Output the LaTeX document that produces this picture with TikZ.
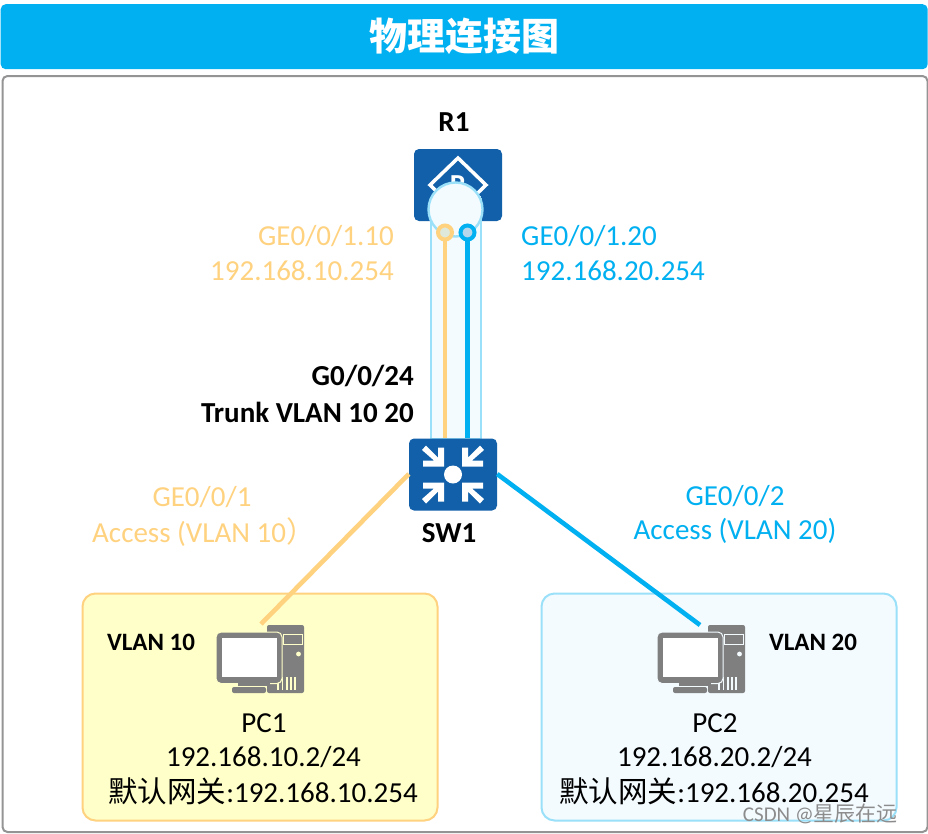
\documentclass[tikz,border=0pt]{standalone}
\usepackage{fontspec}
\setmainfont{Carlito}
\newfontfamily\cjk{Noto Sans CJK SC}
\definecolor{hdr}{HTML}{00B0F0}
\definecolor{dev}{HTML}{1160A9}
\definecolor{orng}{HTML}{FFD280}
\definecolor{lblue}{HTML}{9BE0F9}
\definecolor{pale}{HTML}{F3FBFF}
\definecolor{yel}{HTML}{FFFFC9}
\definecolor{pcgray}{HTML}{7F7F7F}
\tikzset{
  lbl/.style={font=\fontsize{29}{29}\selectfont,inner sep=0pt,text=black},
  bold/.style={font=\fontsize{29}{29}\selectfont\bfseries,inner sep=0pt,text=black},
  devbox/.style={fill=dev,rounded corners=5pt,inner sep=0pt,minimum width=88pt,minimum height=72pt},
  port/.style={circle,inner sep=0pt,minimum size=14pt,line width=4pt},
  link/.style={line width=4.6pt},
  pcicon/.pic={
    \fill[pcgray,rounded corners=2pt] (7,-34) rectangle (44,34);
    \draw[#1,line width=.9pt] (23,-24.5) rectangle (42,-15);
    \fill[#1] (38.5,-5) circle (2.4);
    \foreach \q in {18,22.5,27,31,35}{\draw[#1,line width=1.2pt] (\q,18) -- (\q,31);}
    \fill[pcgray,draw=#1,line width=1pt,rounded corners=5pt] (-44,-27) rectangle (22,24.5);
    \fill[white] (-38,-21.5) rectangle (17,18);
    \fill[pcgray] (-22,24) rectangle (10,27);
    \fill[pcgray,rounded corners=2pt] (-28,28) rectangle (6,34);
  }
}
\begin{document}
\begin{tikzpicture}[x=1pt,y=-1pt]
\useasboundingbox (0,0) rectangle (928,833);
\node[fill=hdr,rounded corners=5pt,minimum width=927pt,minimum height=65pt,inner sep=0pt,anchor=north west,text=white,font=\cjk\fontsize{38}{38}\selectfont\bfseries] (title) at (0.5,4) {\raisebox{-1pt}{物理连接图}};
\node[draw=black!42,line width=2pt,fill=white,rounded corners=5pt,minimum width=925pt,minimum height=756pt,inner sep=0pt,anchor=north west] (frame) at (1.5,75) {};

% VLAN boxes
\node[draw=orng,fill=yel,line width=2pt,rounded corners=13pt,minimum width=355pt,minimum height=227pt,anchor=north west,inner sep=0pt] (zone1) at (81.5,592.5) {};
\node[draw=lblue,fill=pale,line width=2pt,rounded corners=13pt,minimum width=355pt,minimum height=227pt,anchor=north west,inner sep=0pt] (zone2) at (540.5,592.5) {};

% R1
\node[devbox] (R1) at (458,185) {};
\draw[white,line width=3.5pt,line join=miter] (458,158) -- (486,185) -- (458,212) -- (430,185) -- cycle;
\node[text=white,font=\fontsize{29}{29}\selectfont\bfseries,inner sep=0pt] (Rglyph) at (458,185) {R};
% trunk tube
\node[draw=lblue,fill=pale,line width=2.6pt,minimum width=50pt,minimum height=240pt,inner sep=0pt,anchor=north] (tube) at (456,198) {};
\fill[pale] (431.5,196) rectangle (480.5,214);
\node[circle,draw=lblue,fill=pale,line width=2.4pt,minimum size=54pt,inner sep=0pt] (bulge) at (455.5,209.5) {};
% SW1
\node[devbox] (SW1) at (453,474.5) {};
\fill[white] (453,474.5) circle (9);
\foreach \a/\b in {1/1,-1/1,1/-1,-1/-1}{
  \begin{scope}[shift={(453,474.5)},xscale=\a,yscale=\b]
    \fill[white] (9,-8) -- (9,-27) -- (15,-27) -- (15,-17) -- (27,-29) -- (31,-24.5) -- (19,-14) -- (30,-14) -- (30,-8) -- cycle;
  \end{scope}
}

% ports
\coordinate (p1top) at (445,232.5);
\coordinate (p2top) at (467.5,232.5);
\draw[orng,link] (p1top) -- (p1top |- SW1.north);
\draw[hdr,link] (p2top) -- (p2top |- SW1.north);
\node[port,draw=orng,fill=orng!45!lblue!60!white] (port1) at (p1top) {};
\node[port,draw=hdr,fill=hdr!30!dev!30!white] (port2) at (p2top) {};

% access links
\coordinate (pc1end) at (261,624);
\coordinate (pc2end) at (700,625);
\draw[orng,link] (SW1.west |- 0,474) -- (pc1end);
\draw[hdr,link] (SW1.east |- 0,474) -- (pc2end);

% PCs
\path (260,659) pic {pcicon=yel};
\path (701,659) pic {pcicon=pale};

% labels
\node[bold] (lr1) at (454,122) {R1};
\node[bold] (lsw1) at (449,533) {SW1};
\node[lbl,text=orng,anchor=east] (a1) at (394,236) {GE0/0/1.10};
\node[lbl,text=orng,anchor=east] (a2) at (394,271) {192.168.10.254};
\node[lbl,text=hdr,anchor=west] (b1) at (521,236) {GE0/0/1.20};
\node[lbl,text=hdr,anchor=west] (b2) at (521,271) {192.168.20.254};
\node[bold,anchor=east] (c1) at (414,376) {G0/0/24};
\node[bold,anchor=east] (c2) at (414,412) {Trunk VLAN 10 20};
\node[lbl,text=orng] (d1) at (202,497) {GE0/0/1};
\node[lbl,text=orng,anchor=west] (d2) at (92,532) {Access (VLAN 10{\cjk ）}};
\node[lbl,text=hdr] (e1) at (735,496) {GE0/0/2};
\node[lbl,text=hdr] (e2) at (735,531) {Access (VLAN 20)};
\node[bold,font=\fontsize{25}{25}\selectfont\bfseries] (v1) at (151,642) {VLAN 10};
\node[bold,font=\fontsize{25}{25}\selectfont\bfseries] (v2) at (813,642) {VLAN 20};
\node[lbl] (pc1) at (264,723) {PC1};
\node[lbl] (pc2) at (715,723) {PC2};
\node[lbl] (ip1) at (263.5,757) {192.168.10.2/24};
\node[lbl] (ip2) at (714.5,757) {192.168.20.2/24};
\node[lbl] (gw1) at (263,791) {{\cjk\fontsize{29.5}{29}\selectfont 默认网关}:192.168.10.254};
\node[lbl] (gw2) at (714,791) {{\cjk\fontsize{29.5}{29}\selectfont 默认网关}:192.168.20.254};
\node[inner sep=0pt,text=black!45,font=\fontsize{21}{21}\selectfont,anchor=east] (wm) at (898,814) {CSDN @{\cjk 星辰在远}};
\end{tikzpicture}
\end{document}
